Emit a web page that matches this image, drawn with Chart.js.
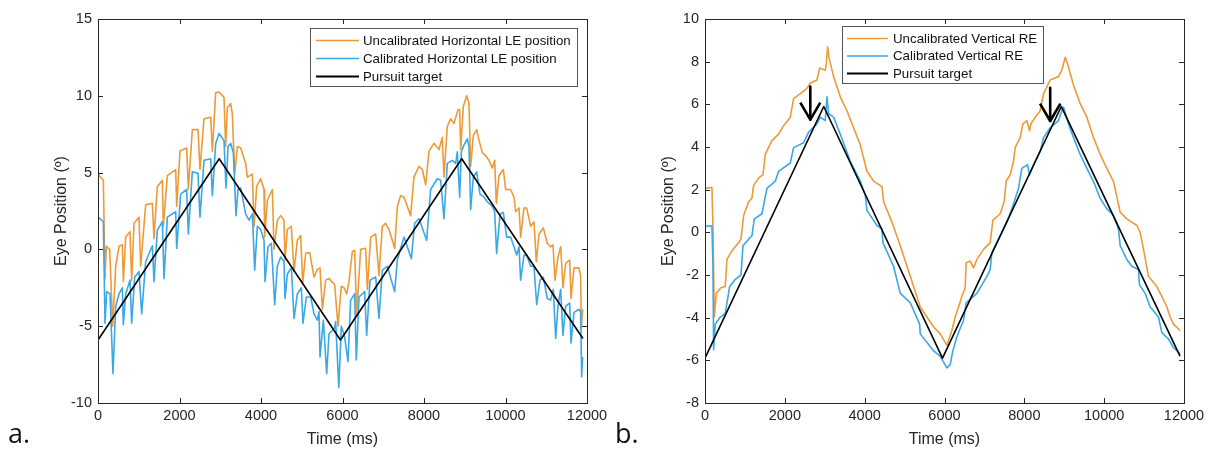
<!DOCTYPE html>
<html>
<head>
<meta charset="utf-8">
<script src="https://cdn.jsdelivr.net/npm/chart.js@4.4.1/dist/chart.umd.min.js"></script>
<style>
  body { margin: 0; background: #fff; width: 1209px; height: 455px; position: relative; overflow: hidden; }
  canvas { position: absolute; top: 0; }
  #left { left: 0; }
  #right { left: 600px; }
  .tag { position: absolute; font-family: "Open Sans", sans-serif; font-size: 27px; color: #111; }
</style>
</head>
<body>
<canvas id="left" width="620" height="455"></canvas>
<canvas id="right" width="609" height="455"></canvas>
<div class="tag" style="left:8px; top:414px;">a.</div>
<div class="tag" style="left:615px; top:414px;">b.</div>
<script>
// pursuit target (both panels)
const targetT = [0, 2975, 5950, 8925, 11900]
const targetY = [-5.9, 5.9, -5.9, 5.9, -5.8]

// panel a: horizontal LE, uncalibrated
const horizUncalT = [0,131,172,205,287,360,434,516,597,622,679,785,826,884,1006,1047,1170,1334,1374,1456,1579,1603,1702,1906,1931,2012,2176,2217,2315,2454,2503,2601,2765,2806,2888,2970,3092,3133,3174,3256,3297,3354,3420,3501,3624,3665,3788,3829,3894,3992,4074,4090,4156,4279,4319,4401,4483,4565,4589,4647,4745,4810,4892,4974,5023,5097,5195,5301,5383,5448,5506,5587,5669,5808,5890,5971,6036,6102,6159,6241,6298,6347,6445,6568,6609,6691,6814,6895,6977,7059,7141,7280,7345,7427,7509,7672,7754,7877,7959,8041,8123,8245,8368,8450,8490,8572,8654,8736,8834,8875,8900,8965,9047,9104,9145,9210,9292,9350,9431,9513,9595,9677,9734,9775,9840,9947,10004,10127,10208,10249,10331,10372,10454,10519,10617,10699,10756,10822,10928,11026,11108,11165,11215,11288,11354,11411,11476,11575,11607,11681,11804,11844,11861,11893]
const horizUncalY = [4.9,4.5,-1.9,0.2,0.0,-5.0,-1.1,0.2,0.3,-2.1,0.8,1.15,-2.0,1.7,2.1,-1.1,2.9,3.0,0.7,4.1,4.5,1.5,4.8,5.2,2.8,6.4,6.6,3.9,7.8,7.8,5.2,8.5,8.6,6.4,10.2,10.25,9.9,6.7,9.2,9.5,8.8,4.9,6.7,6.6,5.6,4.7,4.9,1.5,4.1,4.6,3.9,0.8,3.2,3.9,0.0,1.9,2.2,1.9,-0.7,1.3,1.5,-1.45,0.6,0.9,-2.2,-0.26,-0.2,-1.8,-1.3,-1.2,-3.9,-2.0,-1.9,-2.3,-5.0,-2.4,-2.5,-2.9,-2.1,-0.15,-0.05,-4.2,0.0,0.07,-2.6,0.8,1.0,-1.7,1.5,1.7,1.3,0.07,2.8,3.5,3.4,2.2,4.7,5.4,5.2,4.2,6.4,6.9,6.5,7.3,4.7,8.0,8.5,8.2,9.1,9.07,6.5,9.3,10.0,9.5,5.4,7.4,7.8,7.1,6.3,6.1,5.8,5.3,5.8,3.0,4.8,5.2,3.9,3.9,3.4,2.45,2.7,0.8,2.7,2.7,1.5,1.8,-0.8,1.0,1.4,0.4,0.17,0.3,-2.0,-0.5,0.17,-2.5,-0.9,-0.7,-3.2,-1.2,-1.2,-1.75,-5.2,-3.9]

// panel a: horizontal LE, calibrated
const horizCalT = [0,131,172,213,295,368,434,516,597,622,679,785,826,900,1006,1072,1170,1334,1374,1456,1579,1620,1702,1906,1931,2029,2176,2217,2315,2454,2503,2601,2765,2806,2888,2970,3092,3141,3191,3256,3321,3387,3436,3501,3624,3706,3788,3845,3910,3992,4074,4099,4172,4254,4336,4401,4483,4565,4589,4647,4745,4810,4892,4990,5031,5113,5219,5301,5383,5424,5448,5530,5612,5669,5808,5832,5910,5971,6053,6135,6200,6298,6339,6405,6544,6593,6675,6814,6895,6977,7100,7280,7345,7427,7509,7689,7771,7877,8065,8163,8327,8409,8490,8572,8695,8777,8818,8875,8916,8965,9063,9104,9145,9210,9292,9374,9472,9554,9677,9734,9783,9865,9947,10028,10127,10208,10274,10331,10372,10454,10519,10617,10699,10765,10847,10928,11026,11108,11174,11231,11288,11354,11411,11476,11575,11607,11681,11804,11844,11869,11893]
const horizCalY = [2.1,1.8,-4.8,-2.75,-2.9,-8.1,-3.7,-2.9,-2.5,-4.9,-2.9,-2.0,-4.8,-1.8,-1.45,-4.2,-0.8,0.24,-2.1,1.26,1.8,-1.9,2.1,2.45,0.07,3.6,3.9,1.0,5.05,4.95,2.1,5.8,5.9,3.5,6.9,7.55,7.1,4.0,6.7,6.9,6.3,2.2,3.9,4.0,2.3,1.9,2.3,-1.35,1.5,1.3,0.6,-2.1,0.17,0.4,-3.6,-1.1,-0.5,-0.8,-3.2,-1.6,-1.2,-4.5,-2.9,-2.5,-4.8,-3.1,-3.1,-4.2,-4.6,-4.05,-7.0,-4.6,-8.1,-5.5,-5.1,-4.7,-9.0,-5.0,-5.7,-7.3,-3.3,-2.9,-7.2,-3.1,-2.75,-5.6,-2.0,-1.8,-4.5,-1.35,-1.1,-2.75,-0.7,0.07,0.8,-0.6,1.7,2.0,0.6,3.9,4.6,4.5,2.0,5.6,5.8,5.6,6.35,3.4,6.35,6.7,7.2,6.7,2.6,4.7,5.05,3.6,3.4,3.1,2.8,2.45,-0.26,2.3,2.4,0.8,0.8,0.17,-0.37,0.17,-2.0,-0.37,-0.37,-1.1,-1.1,-3.6,-2.0,-1.8,-3.2,-3.3,-2.6,-5.8,-3.7,-2.6,-5.6,-3.7,-3.5,-6.1,-4.1,-3.9,-4.1,-8.3,-7.0]

// panel b: vertical RE, uncalibrated
const vertUncalT = [0,174,199,233,283,400,508,550,675,842,901,968,1093,1176,1218,1343,1452,1510,1677,1844,1970,2137,2220,2387,2554,2638,2805,2871,3013,3038,3072,3105,3222,3389,3556,3723,3890,4057,4224,4433,4475,4683,4892,5143,5393,5727,5892,6059,6184,6268,6351,6435,6518,6543,6644,6727,6811,6978,7145,7211,7395,7495,7545,7646,7729,7771,7896,7963,8063,8130,8163,8272,8397,8481,8648,8856,8940,9023,9082,9232,9399,9566,9733,9900,10067,10234,10401,10568,10693,10819,10902,10986,11111,11320,11445,11570,11654,11737,11904]
const vertUncalY = [2.06,2.1,0.3,-3.97,-2.86,-2.6,-2.54,-1.27,-0.87,-0.48,-0.32,0.79,1.43,1.6,2.2,2.54,2.7,3.65,4.3,4.6,5.0,5.4,6.27,6.5,6.75,7.0,7.14,7.7,7.6,7.9,8.7,8.2,7.3,6.35,5.7,4.9,4.1,2.86,2.4,2.14,1.43,0.48,-0.63,-2.06,-3.5,-4.44,-4.76,-5.3,-4.6,-3.97,-3.5,-3.0,-2.6,-1.43,-1.35,-1.67,-1.27,-0.8,-0.48,0.56,0.87,1.43,2.4,2.7,3.33,3.97,4.44,5.08,5.24,4.76,5.08,5.4,5.7,6.5,7.14,7.3,7.6,8.2,7.9,6.9,6.03,5.4,4.44,3.65,3.0,2.38,0.95,0.63,0.48,0.32,0.0,-0.8,-2.06,-2.54,-3.0,-3.5,-3.97,-4.3,-4.6]

// panel b: vertical RE, calibrated
const vertCalT = [0,174,199,216,258,383,508,617,759,901,951,1093,1176,1235,1427,1552,1761,1844,2137,2220,2471,2596,2805,2888,3013,3055,3097,3222,3389,3640,3890,4015,4057,4307,4433,4458,4725,4892,5143,5376,5393,5727,5892,6059,6143,6209,6310,6393,6477,6543,6727,6811,7061,7145,7186,7353,7562,7687,7854,7938,8080,8130,8230,8397,8481,8648,8856,8940,8982,9107,9232,9399,9566,9733,9900,10067,10234,10359,10401,10568,10693,10860,10885,11027,11153,11361,11445,11612,11737,11904]
const vertCalY = [0.3,0.29,-1.4,-5.5,-4.3,-3.97,-3.8,-2.54,-2.2,-2.0,-0.63,-0.32,-0.16,0.63,0.87,2.06,2.4,2.86,3.25,3.97,4.2,4.7,5.08,5.4,5.24,6.35,5.56,5.4,4.6,3.33,2.4,1.75,1.03,0.32,0.16,-0.48,-1.6,-2.86,-3.3,-4.3,-4.76,-5.56,-5.8,-6.35,-6.2,-5.56,-4.9,-4.5,-4.13,-3.3,-3.0,-2.86,-2.06,-1.75,-0.95,-0.32,0.48,1.1,2.06,3.0,3.17,2.7,3.17,3.8,4.44,4.9,5.24,5.7,5.87,5.08,4.44,3.65,3.0,2.38,1.59,1.1,0.8,0.16,-0.63,-1.27,-1.59,-1.75,-2.46,-2.86,-3.5,-3.97,-4.7,-5.0,-5.4,-5.7]

// panel b arrows (time, shaft top, tip, wing half-width in ms, wing height)
const arrowT = [2638, 8648]
const arrowTop = [6.83, 6.78]
const arrowTip = [5.28, 5.22]
const arrowHalf = [250, 255]
const arrowWingY = [6.08, 6.03]

const xTicks = [0, 2000, 4000, 6000, 8000, 10000, 12000]
const leftYTicks = [-10, -5, 0, 5, 10, 15]
const rightYTicks = [-8, -6, -4, -2, 0, 2, 4, 6, 8, 10]

const ORANGE = '#EE9A37'
const BLUE = '#3AA8E6'
const INK = '#262626'
const FONT = '"Liberation Sans", Arial, sans-serif'

function pts(t, y){
    return t.map((v, i) => ({x: v, y: y[i]}))
}

// MATLAB-style box with inward ticks, plus an inside legend
const matlabBox = {
    id: 'matlabBox',
    afterDatasetsDraw(chart, args, opts){
        const ctx = chart.ctx
        const a = chart.chartArea
        ctx.save()
        ctx.strokeStyle = INK
        ctx.lineWidth = 1
        ctx.strokeRect(Math.round(a.left) + 0.5, Math.round(a.top) + 0.5, Math.round(a.right - a.left), Math.round(a.bottom - a.top))
        ctx.beginPath()
        chart.scales.x.ticks.forEach(tk => {
            const px = Math.round(chart.scales.x.getPixelForValue(tk.value)) + 0.5
            ctx.moveTo(px, a.bottom); ctx.lineTo(px, a.bottom - 5)
            ctx.moveTo(px, a.top); ctx.lineTo(px, a.top + 5)
        })
        chart.scales.y.ticks.forEach(tk => {
            const py = Math.round(chart.scales.y.getPixelForValue(tk.value)) + 0.5
            ctx.moveTo(a.left, py); ctx.lineTo(a.left + 5, py)
            ctx.moveTo(a.right, py); ctx.lineTo(a.right - 5, py)
        })
        ctx.stroke()

        // legend
        const L = opts.legend
        ctx.fillStyle = '#fff'
        ctx.fillRect(L.x, L.y, L.w, L.h)
        ctx.strokeStyle = '#555'
        ctx.strokeRect(L.x + 0.5, L.y + 0.5, L.w, L.h)
        ctx.font = '13.3px ' + FONT
        ctx.textBaseline = 'middle'
        ctx.fillStyle = '#111'
        for (let i = 0; i < 3; i++){
            const ds = chart.data.datasets[i]
            const ry = L.rows[i]
            ctx.strokeStyle = ds.borderColor
            ctx.lineWidth = i == 2 ? 2 : 1.6
            ctx.beginPath()
            ctx.moveTo(L.lineX0, ry); ctx.lineTo(L.lineX1, ry)
            ctx.stroke()
            ctx.fillText(ds.label, L.textX, ry + 0.5)
        }
        ctx.restore()
    }
}

function makeChart(id, cfg){
    const datasets = [
        {label: cfg.labels[0], data: pts(cfg.uncalT, cfg.uncalY), borderColor: ORANGE, borderWidth: 1.6, order: 2},
        {label: cfg.labels[1], data: pts(cfg.calT, cfg.calY), borderColor: BLUE, borderWidth: 1.6, order: 1},
        {label: 'Pursuit target', data: pts(targetT, targetY), borderColor: '#000', borderWidth: 1.6, order: 0}
    ]
    if (cfg.arrows){
        arrowT.forEach((t, i) => {
            datasets.push({label: 'arrow', data: [{x: t, y: arrowTop[i]}, {x: t, y: arrowTip[i]}], borderColor: '#000', borderWidth: 2.6, order: 0})
            datasets.push({label: 'arrowhead', data: [{x: t - arrowHalf[i], y: arrowWingY[i]}, {x: t, y: arrowTip[i]}, {x: t + arrowHalf[i], y: arrowWingY[i]}], borderColor: '#000', borderWidth: 2.6, order: 0})
        })
    }
    return new Chart(document.getElementById(id), {
        type: 'line',
        data: {datasets: datasets},
        plugins: [matlabBox],
        options: {
            responsive: false,
            animation: false,
            devicePixelRatio: 1,
            elements: {point: {radius: 0}, line: {tension: 0, borderJoinStyle: 'round'}},
            layout: {padding: cfg.padding},
            plugins: {
                legend: {display: false},
                tooltip: {enabled: false},
                matlabBox: {legend: cfg.legend}
            },
            scales: {
                x: {
                    type: 'linear', min: 0, max: 12000,
                    afterBuildTicks: s => { s.ticks = xTicks.map(v => ({value: v})) },
                    afterFit: s => { s.height = 50 },
                    grid: {display: false, drawTicks: false, tickLength: 0}, border: {display: false},
                    ticks: {color: INK, font: {family: FONT, size: 14.5}, padding: 4, maxRotation: 0, callback: v => String(v)},
                    title: {display: true, text: 'Time (ms)', color: INK, font: {family: FONT, size: 16}, padding: {top: 2, bottom: 4}}
                },
                y: {
                    type: 'linear', min: cfg.ymin, max: cfg.ymax,
                    afterBuildTicks: s => { s.ticks = cfg.yTicks.map(v => ({value: v})) },
                    afterFit: s => { s.width = cfg.yWidth },
                    grid: {display: false, drawTicks: false, tickLength: 0}, border: {display: false},
                    ticks: {color: INK, font: {family: FONT, size: 14.5}, padding: 6},
                    title: {display: true, text: 'Eye Position (º)', color: INK, font: {family: FONT, size: 16}, padding: {top: 4, bottom: 4}}
                }
            }
        }
    })
}

makeChart('left', {
    labels: ['Uncalibrated Horizontal LE position', 'Calibrated Horizontal LE position'],
    uncalT: horizUncalT, uncalY: horizUncalY, calT: horizCalT, calY: horizCalY,
    ymin: -10, ymax: 15, yTicks: leftYTicks,
    yWidth: 50,
    padding: {top: 19, right: 33, bottom: 2, left: 48},
    legend: {x: 310, y: 28, w: 267, h: 58, rows: [40.5, 58.5, 76.5], lineX0: 316, lineX1: 359, textX: 363}
})

makeChart('right', {
    labels: ['Uncalibrated Vertical RE', 'Calibrated Vertical RE'],
    uncalT: vertUncalT, uncalY: vertUncalY, calT: vertCalT, calY: vertCalY,
    ymin: -8, ymax: 10, yTicks: rightYTicks,
    yWidth: 50,
    padding: {top: 19, right: 25, bottom: 2, left: 55},
    legend: {x: 242, y: 26, w: 201, h: 57, rows: [38.5, 56, 73.5], lineX0: 247, lineX1: 288, textX: 293},
    arrows: true
})
</script>
</body>
</html>
